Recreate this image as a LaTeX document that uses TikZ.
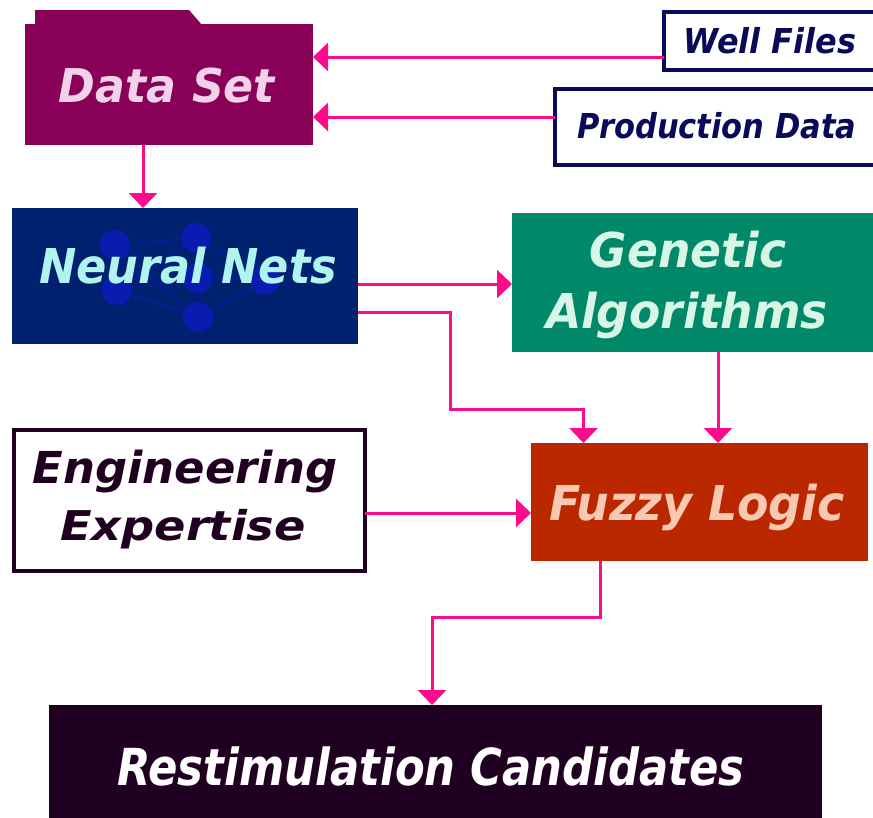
\documentclass[tikz,border=0pt]{standalone}
\usepackage{fontspec}
\newfontfamily\dfont{DejaVu Sans}
\usetikzlibrary{arrows.meta}
\definecolor{arrpink}{HTML}{FF0A8C}
\definecolor{dsfill}{HTML}{880058}
\definecolor{dstext}{HTML}{F2D2EA}
\definecolor{navyb}{HTML}{0A0A5A}
\definecolor{nnfill}{HTML}{002070}
\definecolor{nntext}{HTML}{B0F4F0}
\definecolor{nncirc}{HTML}{0A1CB0}
\definecolor{gafill}{HTML}{008868}
\definecolor{gatext}{HTML}{D8F6E6}
\definecolor{flfill}{HTML}{BB2800}
\definecolor{fltext}{HTML}{F8C8B0}
\definecolor{darkp}{HTML}{200020}
\newcommand\mytxt[3]{\scalebox{#1}[1]{\fontsize{#2}{#2}\selectfont #3}}
\begin{document}
\begin{tikzpicture}[x=1pt,y=-1pt,
  box/.style={rectangle, inner sep=0pt, outer sep=0pt, anchor=north west},
  txt/.style={anchor=base, inner sep=0pt, font=\dfont\bfseries\itshape},
  arr/.style={draw=arrpink, line width=3pt, -{Triangle[length=15pt,width=28pt]}},
  nn/.style={circle, fill=nncirc, minimum size=30pt, inner sep=0pt},
  nnl/.style={draw=nncirc, line width=1pt}]
\useasboundingbox (0,0) rectangle (873,817);
\fill[white] (0,0) rectangle (873,817);
\clip (0,0) rectangle (873,817);

% Data Set folder
\fill[dsfill] (35,25) -- (35,10) -- (189,10) -- (202,25) -- cycle;
\node[box, fill=dsfill, minimum width=288pt, minimum height=121pt] (dset) at (25,24) {};
\node[txt, text=dstext] (dsettxt) at (167,102) {\mytxt{0.95}{46.6}{Data Set}};

% Well files, production data
\node[box, draw=navyb, line width=4pt, fill=white, minimum width=222pt, minimum height=58pt] (well) at (664,12) {};
\node[txt, text=navyb] (welltxt) at (770,53) {\mytxt{0.93}{34.3}{Well Files}};
\node[box, draw=navyb, line width=4pt, fill=white, minimum width=332pt, minimum height=76pt] (prod) at (555,89) {};
\node[txt, text=navyb] (prodtxt) at (717,138) {\mytxt{0.89}{34.3}{Production Data}};

% Neural nets
\node[box, fill=nnfill, minimum width=346pt, minimum height=136pt] (neural) at (12,208) {};
\node[nn] (c1) at (115,245) {};
\node[nn] (c2) at (196,238) {};
\node[nn] (c3) at (117,290) {};
\node[nn] (c4) at (198,278) {};
\node[nn] (c5) at (198,317) {};
\node[nn] (c6) at (265,280) {};
\draw[nnl] (c1) -- (c2) (c1) -- (c5) (c3) -- (c2) (c3) -- (c5) (c2) -- (c6) (c5) -- (c6) (c3) -- (c4) (c4) -- (c6) (c1) -- (c4);
\node[txt, text=nntext] (neuraltxt) at (188,283) {\mytxt{0.93}{48}{Neural Nets}};

% Genetic algorithms
\node[box, fill=gafill, minimum width=370pt, minimum height=139pt] (genetic) at (512,213) {};
\node[txt, text=gatext] (gatxt1) at (688,267) {\mytxt{0.95}{48}{Genetic}};
\node[txt, text=gatext] (gatxt2) at (687,328) {\mytxt{0.95}{48}{Algorithms}};

% Fuzzy logic
\node[box, fill=flfill, minimum width=337pt, minimum height=118pt] (fuzzy) at (531,443) {};
\node[txt, text=fltext] (fuzzytxt) at (697,520) {\mytxt{0.955}{48}{Fuzzy Logic}};

% Engineering expertise
\node[box, draw=darkp, line width=4pt, fill=white, minimum width=351pt, minimum height=141pt] (eng) at (14,430) {};
\node[txt, text=darkp] (engtxt1) at (185,483) {\mytxt{1.02}{44}{Engineering}};
\node[txt, text=darkp] (engtxt2) at (183,540) {\mytxt{1.13}{41}{Expertise}};

% Restimulation candidates
\node[box, fill=darkp, minimum width=773pt, minimum height=125pt] (restim) at (49,705) {};
\node[txt, text=white] (restimtxt) at (431,785) {\mytxt{0.85}{51}{Restimulation Candidates}};

% connectors
\coordinate (k1) at (450,409);
\coordinate (k2) at (432,617);
\draw[arr] ([yshift=-16pt]well.west) -- ([yshift=-16pt]well.west -| dset.east);
\draw[arr] ([yshift=10pt]prod.west) -- ([yshift=10pt]prod.west -| dset.east);
\draw[arr] ([xshift=-26pt]dset.south) -- ([xshift=-26pt]dset.south |- neural.north);
\draw[arr] ([yshift=-8pt]neural.east) -- ([yshift=-8pt]neural.east -| genetic.west);
\draw[arr] ([yshift=-36pt]neural.east) -| (k1) -| ([xshift=-116pt]fuzzy.north);
\draw[arr] ([xshift=21pt]genetic.south) -- ([xshift=21pt]genetic.south |- fuzzy.north);
\draw[arr] ([yshift=-12.5pt]eng.east) -- ([yshift=-12.5pt]eng.east -| fuzzy.west);
\draw[arr] ([xshift=-99.5pt]fuzzy.south) |- (k2) -- (k2 |- restim.north);
\end{tikzpicture}
\end{document}
